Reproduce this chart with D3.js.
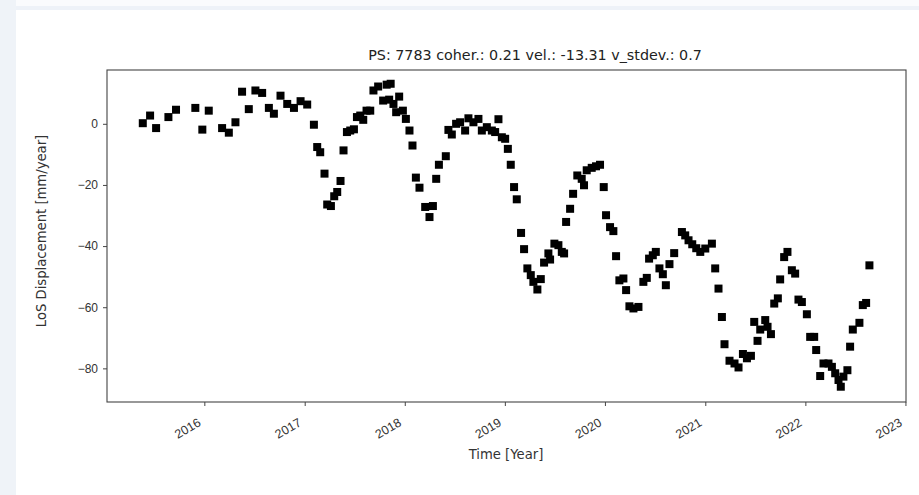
<!DOCTYPE html>
<html>
<head>
<meta charset="utf-8">
<script src="https://cdn.jsdelivr.net/npm/d3@7"></script>
<style>
  body { margin: 0; background: #fff; }
  svg { display: block; font-family: "DejaVu Sans", sans-serif; }
</style>
</head>
<body>
<svg id="chart" width="919" height="495"></svg>
<script>
'use strict'

// decimal years of each acquisition
const times = [
  2015.385, 2015.458, 2015.518, 2015.641, 2015.717, 2015.910, 2015.980, 2016.044,
  2016.177, 2016.244, 2016.310, 2016.376, 2016.443, 2016.509, 2016.576, 2016.643,
  2016.693, 2016.759, 2016.826, 2016.893, 2016.959, 2017.025, 2017.092, 2017.125,
  2017.155, 2017.198, 2017.225, 2017.262, 2017.295, 2017.325, 2017.358, 2017.388,
  2017.422, 2017.455, 2017.492, 2017.522, 2017.555, 2017.585, 2017.618, 2017.655,
  2017.687, 2017.734, 2017.784, 2017.819, 2017.844, 2017.859, 2017.887, 2017.914,
  2017.944, 2017.981, 2018.011, 2018.047, 2018.077, 2018.111, 2018.147, 2018.204,
  2018.247, 2018.281, 2018.314, 2018.341, 2018.410, 2018.436, 2018.470, 2018.513,
  2018.553, 2018.603, 2018.636, 2018.686, 2018.736, 2018.770, 2018.820, 2018.870,
  2018.903, 2018.936, 2018.970, 2019.003, 2019.030, 2019.059, 2019.092, 2019.119,
  2019.162, 2019.192, 2019.225, 2019.259, 2019.285, 2019.325, 2019.359, 2019.392,
  2019.435, 2019.452, 2019.495, 2019.535, 2019.569, 2019.592, 2019.612, 2019.652,
  2019.682, 2019.724, 2019.768, 2019.791, 2019.818, 2019.868, 2019.911, 2019.951,
  2019.988, 2020.011, 2020.051, 2020.084, 2020.111, 2020.144, 2020.184, 2020.211,
  2020.244, 2020.284, 2020.334, 2020.383, 2020.417, 2020.440, 2020.477, 2020.507,
  2020.543, 2020.577, 2020.607, 2020.643, 2020.690, 2020.767, 2020.800, 2020.833,
  2020.870, 2020.910, 2020.950, 2021.000, 2021.066, 2021.099, 2021.132, 2021.166,
  2021.192, 2021.242, 2021.292, 2021.332, 2021.376, 2021.416, 2021.456, 2021.489,
  2021.522, 2021.549, 2021.599, 2021.622, 2021.656, 2021.689, 2021.725, 2021.748,
  2021.788, 2021.821, 2021.865, 2021.898, 2021.931, 2021.965, 2022.015, 2022.048,
  2022.088, 2022.108, 2022.148, 2022.181, 2022.231, 2022.265, 2022.298, 2022.331,
  2022.354, 2022.380, 2022.420, 2022.447, 2022.474, 2022.540, 2022.574, 2022.607,
  2022.640
]

// LoS displacement [mm/year]
const disp = [
  0.2, 2.7, -1.4, 2.2, 4.6, 5.2, -1.9, 4.3,
  -1.4, -2.9, 0.5, 10.5, 4.8, 10.9, 10.1, 5.2,
  3.3, 9.2, 6.5, 5.2, 7.4, 6.3, -0.3, -7.6,
  -9.3, -16.3, -26.4, -26.9, -23.7, -22.3, -18.7, -8.7,
  -2.7, -2.2, -1.8, 2.2, 2.7, 1.3, 4.3, 4.3,
  10.9, 12.2, 7.6, 12.8, 7.9, 13.1, 6.5, 3.8,
  8.9, 4.3, 1.6, -2.2, -7.1, -17.6, -20.9, -27.2,
  -30.5, -26.9, -18.0, -13.4, -10.6, -2.0, -3.5, 0.0,
  0.5, -2.2, 1.8, 0.5, 1.6, -2.2, -1.1, -2.2,
  -2.7, 1.5, -4.4, -4.9, -8.2, -13.4, -20.7, -24.7,
  -35.7, -41.0, -47.3, -49.5, -51.7, -54.2, -50.8, -45.4,
  -42.4, -44.4, -39.2, -39.7, -41.9, -42.4, -32.1, -27.8,
  -22.9, -16.9, -18.0, -20.1, -15.2, -14.4, -13.9, -13.4,
  -20.7, -29.9, -33.8, -35.1, -43.3, -51.2, -50.6, -54.4,
  -59.7, -60.4, -59.9, -51.7, -50.4, -44.1, -43.0, -41.9,
  -47.3, -49.2, -52.8, -45.9, -42.3, -35.4, -36.5, -38.1,
  -39.4, -40.7, -41.9, -40.8, -39.2, -47.3, -53.9, -63.2,
  -72.1, -77.5, -78.4, -79.7, -75.3, -76.7, -75.9, -64.8,
  -71.0, -67.3, -64.2, -66.4, -68.8, -58.8, -57.1, -50.9,
  -43.6, -41.9, -47.9, -49.0, -57.5, -58.3, -62.3, -69.7,
  -69.7, -74.0, -82.5, -78.4, -78.4, -79.5, -81.6, -83.8,
  -86.0, -82.7, -80.6, -72.9, -67.3, -65.1, -59.3, -58.6,
  -46.3
]

const yearTicks = [2016, 2017, 2018, 2019, 2020, 2021, 2022, 2023]
const dispTicks = [0, -20, -40, -60, -80]

const titleText = 'PS: 7783 coher.: 0.21 vel.: -13.31 v_stdev.: 0.7'
const xLabel = 'Time [Year]'
const yLabel = 'LoS Displacement [mm/year]'

function yearToDate(y){
	let yr = Math.floor(y)
	let start = Date.UTC(yr, 0, 1)
	let end = Date.UTC(yr + 1, 0, 1)
	return new Date(start + (y - yr) * (end - start))
}

const svg = d3.select('#chart')

// page chrome round the figure
svg.append('rect').attr('x', 0).attr('y', 0).attr('width', 919).attr('height', 6).attr('fill', '#fafbfd')
svg.append('rect').attr('x', 0).attr('y', 6).attr('width', 919).attr('height', 4).attr('fill', '#eef2f8')
svg.append('rect').attr('x', 0).attr('y', 0).attr('width', 16).attr('height', 495).attr('fill', '#eff3f8')

const margin = {left: 107, right: 906, top: 70, bottom: 402}

const x = d3.scaleUtc()
	.domain([new Date(Date.UTC(2015, 0, 11)), new Date(Date.UTC(2023, 0, 3))])
	.range([margin.left, margin.right])

const y = d3.scaleLinear()
	.domain([-91, 17.6])
	.range([margin.bottom, margin.top])

const data = times.map(function(t, i){
	return {t: yearToDate(t), v: disp[i]}
})

// points
const size = 8
svg.append('g')
	.selectAll('rect')
	.data(data)
	.join('rect')
	.attr('x', d => x(d.t) - size / 2)
	.attr('y', d => y(d.v) - size / 2)
	.attr('width', size)
	.attr('height', size)
	.attr('fill', '#000')

// x axis
const xAxis = svg.append('g')
	.attr('transform', 'translate(0,' + margin.bottom + ')')
	.call(d3.axisBottom(x)
		.tickValues(yearTicks.map(yr => new Date(Date.UTC(yr, 0, 1))))
		.tickFormat(d3.utcFormat('%Y'))
		.tickSize(4)
		.tickSizeOuter(0))
xAxis.select('.domain').remove()
xAxis.selectAll('.tick line').attr('stroke', '#444')
xAxis.selectAll('.tick text')
	.attr('font-size', 12.5)
	.attr('fill', '#333')
	.attr('text-anchor', 'end')
	.attr('y', 0)
	.attr('dy', 0)
	.attr('transform', 'translate(-3,23) rotate(-30)')

// y axis
const yAxis = svg.append('g')
	.attr('transform', 'translate(' + margin.left + ',0)')
	.call(d3.axisLeft(y)
		.tickValues(dispTicks)
		.tickFormat(d => d < 0 ? '\u2212' + Math.abs(d) : d)
		.tickSize(4)
		.tickPadding(5)
		.tickSizeOuter(0))
yAxis.select('.domain').remove()
yAxis.selectAll('.tick line').attr('stroke', '#444')
yAxis.selectAll('.tick text')
	.attr('font-size', 12)
	.attr('fill', '#333')

// frame
svg.append('rect')
	.attr('x', margin.left)
	.attr('y', margin.top)
	.attr('width', margin.right - margin.left)
	.attr('height', margin.bottom - margin.top)
	.attr('fill', 'none')
	.attr('stroke', '#444')
	.attr('stroke-width', 1.1)

// texts
svg.append('text')
	.attr('x', 535)
	.attr('y', 60)
	.attr('text-anchor', 'middle')
	.attr('font-size', 14.3)
	.attr('fill', '#222')
	.text(titleText)

svg.append('text')
	.attr('x', 506)
	.attr('y', 459)
	.attr('text-anchor', 'middle')
	.attr('font-size', 13.2)
	.attr('fill', '#333')
	.text(xLabel)

svg.append('text')
	.attr('transform', 'translate(46,231) rotate(-90)')
	.attr('text-anchor', 'middle')
	.attr('font-size', 13.2)
	.attr('fill', '#333')
	.text(yLabel)
</script>
</body>
</html>
